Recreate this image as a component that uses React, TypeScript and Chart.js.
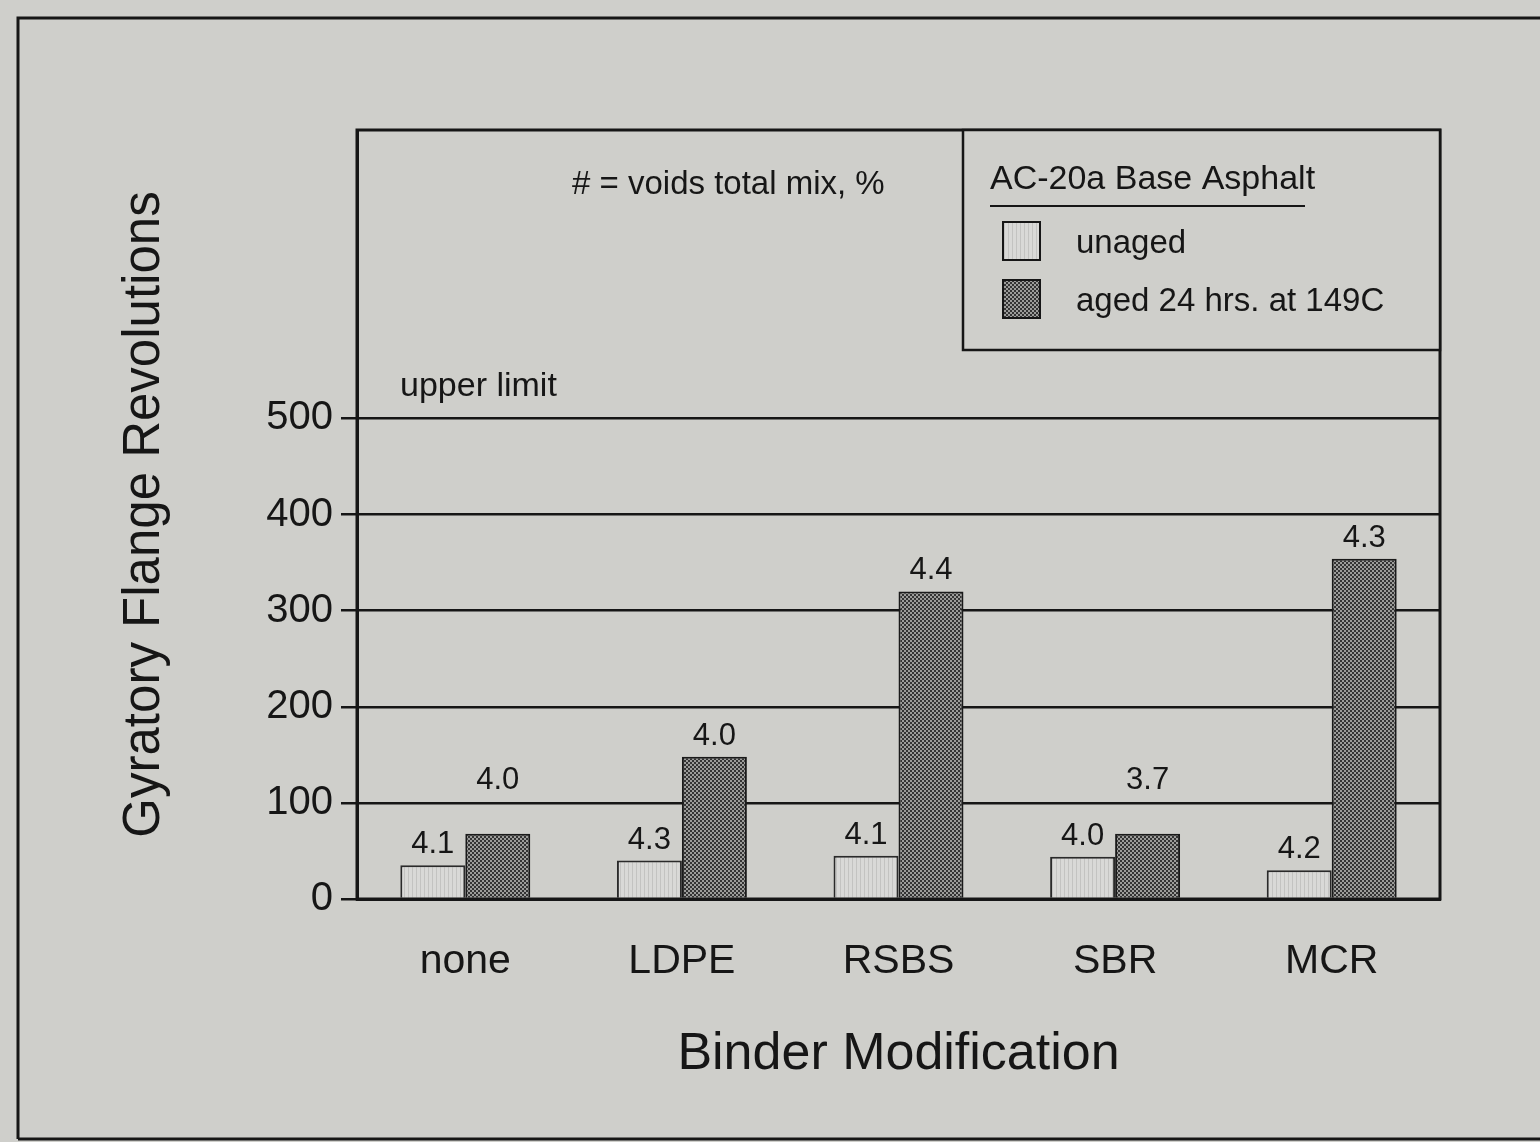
import React, { useEffect, useRef } from "react";
import { Chart, registerables } from "chart.js";

Chart.register(...registerables);

const categories = ["none", "LDPE", "RSBS", "SBR", "MCR"];
const unagedValues = [35, 40, 45, 44, 30];
const agedValues = [68, 148, 320, 68, 354];
const unagedVoids = ["4.1", "4.3", "4.1", "4.0", "4.2"];
const agedVoids = ["4.0", "4.0", "4.4", "3.7", "4.3"];
const yTickValues = [0, 100, 200, 300, 400, 500];
const seriesNames = ["unaged", "aged 24 hrs. at 149C"];
const legendTitle = "AC-20a Base Asphalt";
const noteText = "# = voids total mix, %";
const limitText = "upper limit";
const limitValue = 500;
const xTitle = "Binder Modification";
const yTitle = "Gyratory Flange Revolutions";
const yMax = 800;

const FONT = '"Liberation Sans", Arial, Helvetica, sans-serif';
const INK = "#161616";
const PAPER = "#cfcfcb";

function makePattern(ctx: CanvasRenderingContext2D, kind: "aged" | "unaged") {
  const c = document.createElement("canvas");
  if (kind === "aged") {
    c.width = 4;
    c.height = 4;
    const g = c.getContext("2d")!;
    g.fillStyle = "#9c9c9a";
    g.fillRect(0, 0, 4, 4);
    g.fillStyle = "#343434";
    g.fillRect(0, 0, 2, 2);
    g.fillRect(2, 2, 2, 2);
  } else {
    c.width = 4;
    c.height = 1;
    const g = c.getContext("2d")!;
    g.fillStyle = "#d9d9d7";
    g.fillRect(0, 0, 4, 1);
    g.fillStyle = "#c3c3c1";
    g.fillRect(0, 0, 1, 1);
  }
  return ctx.createPattern(c, "repeat")!;
}

const decorPlugin = {
  id: "decor",
  beforeDraw(chart: any) {
    const { ctx, width, height } = chart;
    ctx.save();
    ctx.fillStyle = PAPER;
    ctx.fillRect(0, 0, width, height);
    ctx.restore();
  },
  afterDatasetsDraw(chart: any) {
    const { ctx } = chart;
    const yScale = chart.scales.y;
    const gridYs = yTickValues.map((v) => yScale.getPixelForValue(v));
    ctx.save();
    ctx.fillStyle = INK;
    ctx.font = `31px ${FONT}`;
    ctx.textAlign = "center";
    ctx.textBaseline = "alphabetic";
    const labelSets = [unagedVoids, agedVoids];
    chart.data.datasets.forEach((_: any, di: number) => {
      const meta = chart.getDatasetMeta(di);
      meta.data.forEach((bar: any, i: number) => {
        let base = bar.y - 12;
        // keep the label clear of grid lines
        for (let k = 0; k < 3; k++) {
          const hit = gridYs.find((gy) => gy >= base - 27 && gy <= base + 5);
          if (hit === undefined) break;
          base = hit - 14;
        }
        ctx.fillText(labelSets[di][i], bar.x, base);
      });
    });
    ctx.restore();
  },
  afterDraw(chart: any) {
    const { ctx, chartArea, width, height } = chart;
    const yScale = chart.scales.y;
    ctx.save();
    ctx.strokeStyle = INK;
    ctx.lineWidth = 3;
    ctx.strokeRect(chartArea.left, chartArea.top, chartArea.right - chartArea.left, chartArea.bottom - chartArea.top);

    ctx.beginPath();
    ctx.moveTo(18, height - 3);
    ctx.lineTo(18, 18);
    ctx.lineTo(width, 18);
    ctx.moveTo(18, height - 3);
    ctx.lineTo(width, height - 3);
    ctx.stroke();

    ctx.fillStyle = INK;
    ctx.font = `33px ${FONT}`;
    ctx.textAlign = "left";
    ctx.textBaseline = "alphabetic";
    ctx.fillText(noteText, chartArea.left + 215, chartArea.top + 64);

    ctx.font = `34px ${FONT}`;
    ctx.fillText(limitText, chartArea.left + 43, yScale.getPixelForValue(limitValue) - 22);

    const lx = 963;
    const ly = chartArea.top;
    const lw = chartArea.right - lx;
    const lh = 220;
    ctx.fillStyle = PAPER;
    ctx.fillRect(lx, ly, lw, lh);
    ctx.lineWidth = 2.5;
    ctx.strokeRect(lx, ly, lw, lh);
    ctx.fillStyle = INK;
    ctx.font = `34px ${FONT}`;
    ctx.fillText(legendTitle, lx + 27, ly + 59);
    ctx.lineWidth = 2;
    ctx.beginPath();
    ctx.moveTo(lx + 27, ly + 76);
    ctx.lineTo(lx + 342, ly + 76);
    ctx.stroke();

    const ds = chart.data.datasets;
    seriesNames.forEach((name, i) => {
      const sy = ly + 92 + i * 58;
      ctx.fillStyle = ds[i].backgroundColor;
      ctx.fillRect(lx + 40, sy, 37, 38);
      ctx.strokeStyle = INK;
      ctx.lineWidth = 2;
      ctx.strokeRect(lx + 40, sy, 37, 38);
      ctx.fillStyle = INK;
      ctx.font = `33px ${FONT}`;
      ctx.fillText(name, lx + 113, sy + 31);
    });
    ctx.restore();
  },
};

export default function App() {
  const canvasRef = useRef<HTMLCanvasElement | null>(null);

  useEffect(() => {
    const canvas = canvasRef.current!;
    const ctx = canvas.getContext("2d")!;
    Chart.defaults.font.family = FONT;
    const chart = new Chart(ctx, {
      type: "bar",
      data: {
        labels: categories,
        datasets: [
          {
            label: seriesNames[0],
            data: unagedValues,
            backgroundColor: makePattern(ctx, "unaged") as any,
            borderColor: "#2a2a2a",
            borderWidth: 2,
          },
          {
            label: seriesNames[1],
            data: agedValues,
            backgroundColor: makePattern(ctx, "aged") as any,
            borderColor: "#1a1a1a",
            borderWidth: 2,
          },
        ],
      },
      options: {
        responsive: false,
        animation: false,
        devicePixelRatio: 1,
        layout: { padding: { left: 20, top: 130, right: 100, bottom: 40 } },
        datasets: { bar: { barPercentage: 1.0, categoryPercentage: 0.6 } },
        plugins: {
          legend: { display: false },
          tooltip: { enabled: false },
        },
        scales: {
          x: {
            grid: { display: false, drawTicks: false },
            border: { display: true, color: INK, width: 3 },
            ticks: { color: INK, font: { size: 41, family: FONT }, padding: 38 },
            title: {
              display: true,
              text: xTitle,
              color: INK,
              font: { size: 52, family: FONT },
              padding: { top: 0, bottom: 16 },
            },
            afterFit: (s: any) => {
              s.height = 203;
            },
          },
          y: {
            min: 0,
            max: yMax,
            afterBuildTicks: (s: any) => {
              s.ticks = yTickValues.map((v) => ({ value: v }));
            },
            grid: { color: INK, lineWidth: 2.5, tickLength: 16, drawTicks: true },
            border: { display: true, color: INK, width: 3 },
            ticks: { color: INK, font: { size: 40, family: FONT }, padding: 8 },
            title: {
              display: true,
              text: yTitle,
              color: INK,
              font: { size: 51, family: FONT },
              padding: { top: 94, bottom: 0 },
            },
            afterFit: (s: any) => {
              s.width = 337;
            },
          },
        },
      },
      plugins: [decorPlugin],
    });
    return () => chart.destroy();
  }, []);

  return (
    <div style={{ position: "absolute", left: 0, top: 0, width: 1540, height: 1142, background: PAPER }}>
      <canvas ref={canvasRef} width={1540} height={1142} style={{ display: "block" }} />
    </div>
  );
}
